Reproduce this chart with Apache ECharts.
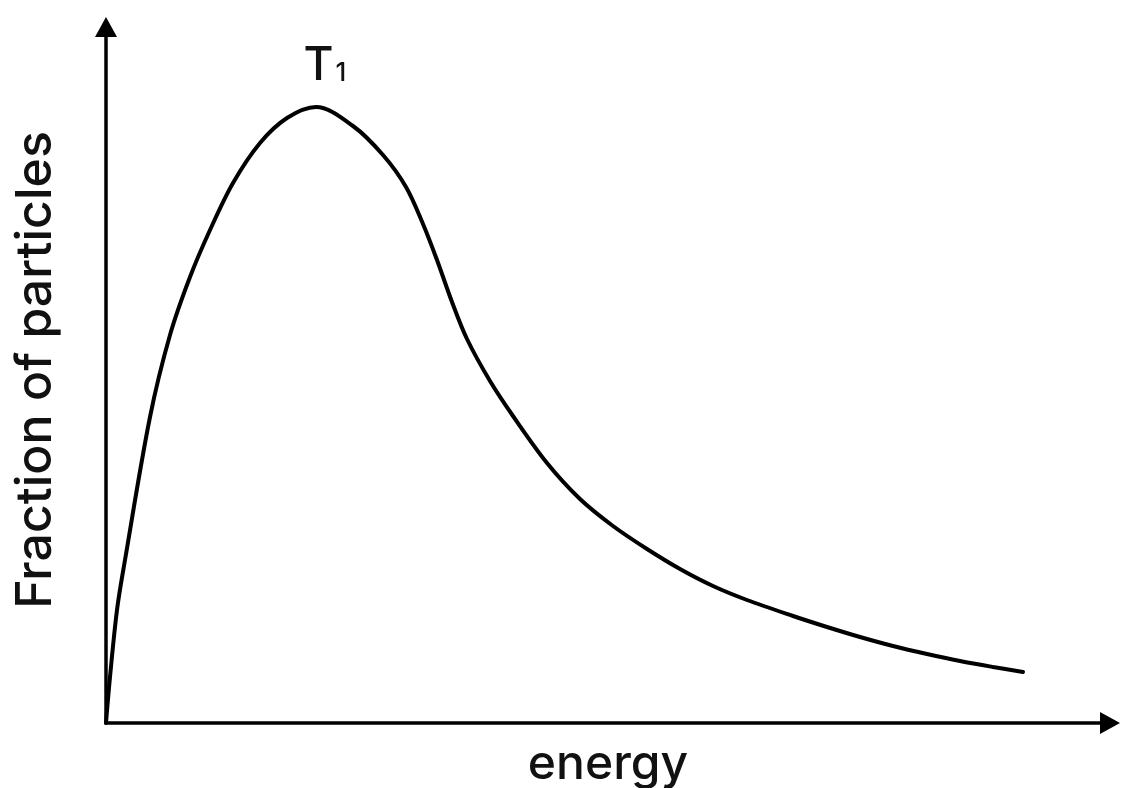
<!DOCTYPE html>
<html>
<head>
<meta charset="utf-8">
<title>Fraction of particles vs energy</title>
<script src="https://cdn.jsdelivr.net/npm/echarts@6/dist/echarts.min.js"></script>
<style>
  html, body { margin: 0; padding: 0; background: #fff; }
  #chart { width: 1138px; height: 788px; }
</style>
</head>
<body>
<div id="chart"></div>
<script>
// curve (energy, fraction) – arbitrary units
var energy = [0, 4, 11, 19, 44, 64, 84, 104, 127, 154, 181, 210, 247, 277, 300, 317, 331, 346, 361, 384, 407, 441, 474, 507, 541, 574, 607, 641, 687, 721, 754, 787, 821, 854, 887, 917];
var fraction = [0, 46, 113, 163, 306, 388, 446, 493, 540, 580, 605, 616, 597, 568, 536, 499, 463, 421, 384, 342, 307, 260, 224, 197, 174, 154, 137, 123, 107, 96, 86, 77, 69, 62, 56, 51];
var peakIndex = 11;
var curveLabel = 'T';
var curveSub = '1';
var xName = 'energy';
var yName = 'Fraction of particles';

var chart = echarts.init(document.getElementById('chart'));

var points = energy.map(function (e, i) {
  return [e, fraction[i]];
});

var axisLine = {
  show: true,
  symbol: ['none', 'triangle'],
  symbolSize: [22, 20],
  lineStyle: { color: '#000', width: 3.5 }
};

var option = {
  backgroundColor: '#fff',
  animation: false,
  grid: { left: 106, right: 28, top: 27, bottom: 65, outerBoundsMode: 'none', containLabel: false },
  xAxis: {
    type: 'value',
    min: 0,
    max: 1004,
    name: xName,
    nameLocation: 'middle',
    nameGap: 18,
    nameTextStyle: { fontFamily: 'Inter', fontWeight: 500, fontSize: 48, color: '#111', verticalAlign: 'top' },
    axisLine: axisLine,
    axisTick: { show: false },
    axisLabel: { show: false },
    splitLine: { show: false }
  },
  yAxis: {
    type: 'value',
    min: 0,
    max: 696,
    name: yName,
    nameLocation: 'middle',
    nameRotate: 90,
    nameGap: 45,
    nameTextStyle: { fontFamily: 'Inter', fontWeight: 500, fontSize: 50, color: '#111', padding: [0, 0, 0, 10] },
    axisLine: axisLine,
    axisTick: { show: false },
    axisLabel: { show: false },
    splitLine: { show: false }
  },
  series: [{
    type: 'line',
    data: points,
    smooth: 0.33,
    showSymbol: false,
    symbol: 'none',
    lineStyle: { color: '#000', width: 4, cap: 'round' },
    z: 5,
    markPoint: {
      symbol: 'rect',
      symbolSize: 1,
      itemStyle: { color: 'rgba(0,0,0,0)' },
      silent: true,
      data: [{
        coord: [energy[peakIndex], fraction[peakIndex]],
        label: {
          show: true,
          position: 'top',
          distance: 17,
          offset: [9, 0],
          formatter: '{t|' + curveLabel + '}{s|' + curveSub + '}',
          rich: {
            t: { fontFamily: 'Inter', fontWeight: 500, fontSize: 46, color: '#111', lineHeight: 46, verticalAlign: 'bottom' },
            s: { fontFamily: 'Inter', fontWeight: 500, fontSize: 26, color: '#111', lineHeight: 26, verticalAlign: 'bottom', padding: [0, 0, 3, 2] }
          }
        }
      }]
    }
  }]
};

chart.setOption(option);
</script>
</body>
</html>
